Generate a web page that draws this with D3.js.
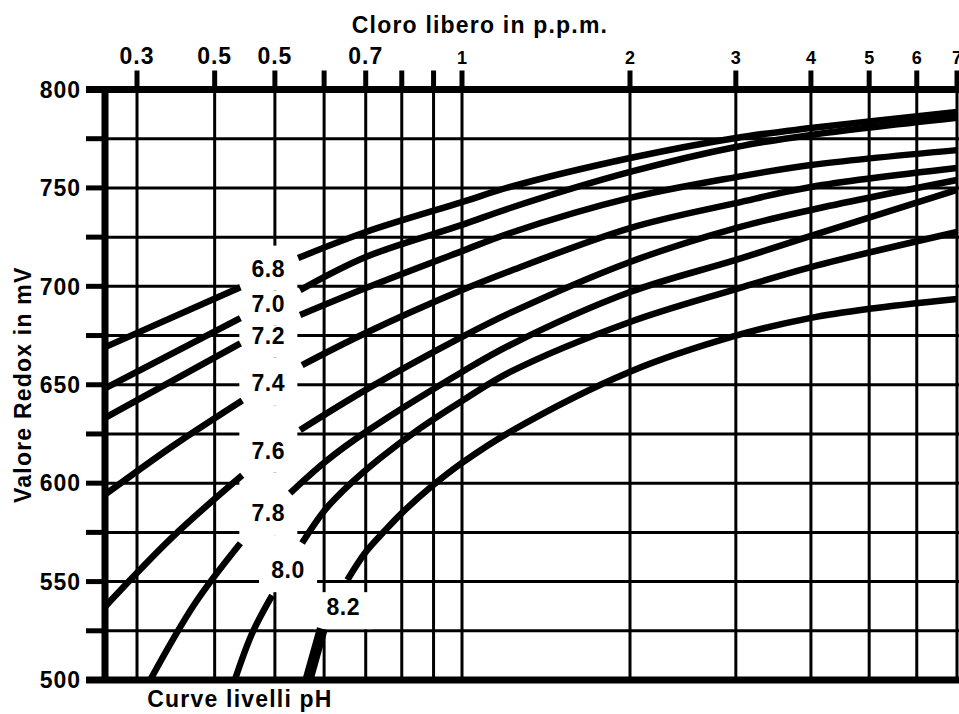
<!DOCTYPE html>
<html>
<head>
<meta charset="utf-8">
<script src="https://cdn.jsdelivr.net/npm/d3@7"></script>
<style>
  body { margin: 0; background: #fff; }
  svg { display: block; }
</style>
</head>
<body>
<svg id="chart"></svg>
<script>
// cloro libero (ppm) vs valore redox (mV), una curva per livello di pH

const xTickValues = [0.3, 0.4, 0.5, 0.6, 0.7, 0.8, 0.9, 1, 2, 3, 4, 5, 6, 7];
const xTickLabels = ["0.3", "0.5", "0.5", "", "0.7", "", "", "1", "2", "3", "4", "5", "6", "7"];
const yTickValues = [500, 525, 550, 575, 600, 625, 650, 675, 700, 725, 750, 775, 800];
const yTickLabels = ["500", "", "550", "", "600", "", "650", "", "700", "", "750", "", "800"];

const phLabels = ["6.8", "7.0", "7.2", "7.4", "7.6", "7.8", "8.0", "8.2"];
const phLabelPpm = [0.488, 0.488, 0.488, 0.488, 0.488, 0.488, 0.525, 0.644];
const phLabelMv = [709, 691.4, 675.1, 650.8, 616.7, 584.8, 555.8, 537];

// [ppm, mV] - tratto a sinistra e a destra delle etichette
const ph68Left = [[0.266, 669], [0.44, 699.5]];
const ph68Right = [[0.545, 714.4], [0.7, 727.6], [1, 742.8], [1.22, 750.5], [2, 765.2], [3, 775.4], [4, 780.4], [7, 788.6]];
const ph70Left = [[0.266, 648], [0.44, 683.8]];
const ph70Right = [[0.549, 698.1], [0.7, 714.9], [1, 731.2], [1.22, 739.8], [2, 758.1], [3, 770.8], [4, 776.9], [7, 785.6]];
const ph72Left = [[0.266, 633], [0.44, 671]];
const ph72Right = [[0.549, 685.4], [0.7, 699.1], [1, 717.9], [1.22, 727.1], [2, 744.9], [3, 755.5], [4, 761.6], [7, 769.2]];
const ph74Left = [[0.266, 594], [0.343, 619], [0.443, 642]];
const ph74Right = [[0.553, 660], [0.7, 676.3], [1, 698.1], [1.22, 707.8], [2, 729.6], [3, 742.3], [4, 750.5], [7, 760.1]];
const ph76Left = [[0.266, 537], [0.343, 573], [0.443, 604]];
const ph76Right = [[0.549, 627], [0.7, 647.4], [1, 674.3], [1.22, 686.5], [2, 712.4], [3, 729.6], [4, 738.8], [7, 754]];
const ph78Left = [[0.315, 500], [0.372, 539], [0.44, 569.5]];
const ph78Right = [[0.529, 595], [0.602, 610.8], [0.7, 626], [1, 656.5], [1.22, 670.2], [2, 697.1], [3, 713.4], [4, 725.6], [7, 749]];
const ph80Left = [[0.431, 500], [0.46, 524], [0.495, 543]];
const ph80Right = [[0.553, 569.6], [0.602, 586.4], [0.661, 599.6], [0.739, 612.8], [0.857, 628], [1, 641.8], [1.22, 656.5], [2, 681.9], [3, 698.6], [4, 709.8], [7, 727.6]];
const ph82Left = [[0.565, 500], [0.596, 526]];
const ph82Right = [[0.654, 550.8], [0.7, 565], [0.752, 576], [0.8, 584.8], [0.89, 597.9], [1, 610.3], [1.22, 626.1], [2, 656.6], [3, 674.9], [4, 684], [5, 688.6], [7, 693.6]];

const curves = [
    [ph68Left, ph68Right], [ph70Left, ph70Right], [ph72Left, ph72Right], [ph74Left, ph74Right],
    [ph76Left, ph76Right], [ph78Left, ph78Right], [ph80Left, ph80Right], [ph82Left, ph82Right]
];

const width = 959, height = 714;
const left = 105, right = 959, tickLen = 19;
const font = "'Liberation Sans', Arial, sans-serif";

// scala quasi logaritmica, disegnata a mano: log a tratti
const x = d3.scaleLog()
    .domain([0.3, 1, 2, 7])
    .range([137, 462, 630, 957]);

const y = d3.scaleLinear()
    .domain([500, 800])
    .range([680, 89.5]);

const svg = d3.select("#chart")
    .attr("width", width)
    .attr("height", height)
    .attr("font-family", font)
    .attr("font-weight", "bold");

svg.append("rect").attr("width", width).attr("height", height).attr("fill", "#fff");

const isEdge = d => d === 500 || d === 800;

// griglia orizzontale + tacche a sinistra
svg.append("g").selectAll("line")
    .data(yTickValues)
    .join("line")
    .attr("x1", left).attr("x2", right)
    .attr("y1", d => y(d)).attr("y2", d => y(d))
    .attr("stroke", "#000")
    .attr("stroke-width", d => isEdge(d) ? 7 : 3);

svg.append("g").selectAll("line")
    .data(yTickValues)
    .join("line")
    .attr("x1", left - tickLen).attr("x2", left)
    .attr("y1", d => y(d)).attr("y2", d => y(d))
    .attr("stroke", "#000")
    .attr("stroke-width", d => isEdge(d) ? 7 : 5);

// griglia verticale + tacche in alto
svg.append("g").selectAll("line")
    .data(xTickValues)
    .join("line")
    .attr("x1", d => x(d)).attr("x2", d => x(d))
    .attr("y1", y(800)).attr("y2", y(500))
    .attr("stroke", "#000")
    .attr("stroke-width", 3);

svg.append("g").selectAll("line")
    .data(xTickValues)
    .join("line")
    .attr("x1", d => x(d)).attr("x2", d => x(d))
    .attr("y1", y(800) - tickLen).attr("y2", y(800))
    .attr("stroke", "#000")
    .attr("stroke-width", 5);

svg.append("line")
    .attr("x1", left).attr("x2", left)
    .attr("y1", y(800) - 3).attr("y2", y(500) + 3)
    .attr("stroke", "#000")
    .attr("stroke-width", 7);

// etichette assi
svg.append("g").selectAll("text")
    .data(yTickValues.filter((d, i) => yTickLabels[i] !== ""))
    .join("text")
    .attr("x", left - tickLen - 5)
    .attr("y", d => y(d))
    .attr("dy", "0.36em")
    .attr("text-anchor", "end")
    .attr("font-size", 23)
    .attr("letter-spacing", 1)
    .text(d => yTickLabels[yTickValues.indexOf(d)]);

svg.append("g").selectAll("text")
    .data(xTickValues.filter((d, i) => xTickLabels[i] !== ""))
    .join("text")
    .attr("x", d => x(d))
    .attr("y", y(800) - tickLen - 7)
    .attr("text-anchor", "middle")
    .attr("font-size", d => d < 1 ? 23 : 18)
    .attr("letter-spacing", d => d < 1 ? 1 : 0)
    .text(d => xTickLabels[xTickValues.indexOf(d)]);

// riquadri bianchi dietro le etichette pH (tagliano la griglia)
const boxes = [];
phLabels.forEach((p, i) => {
    const cx = x(phLabelPpm[i]), cy = y(phLabelMv[i]);
    const top = i === 0 ? cy - 23 : y(phLabelMv[i - 1]) + 22;
    boxes.push({ x: cx - 29, y: top, w: 58, h: cy + 22 - top });
});

svg.append("g").selectAll("rect")
    .data(boxes)
    .join("rect")
    .attr("x", d => d.x).attr("y", d => d.y)
    .attr("width", d => d.w).attr("height", d => d.h)
    .attr("fill", "#fff");

// curve
const line = d3.line()
    .x(d => x(d[0]))
    .y(d => y(d[1]))
    .curve(d3.curveCatmullRom.alpha(0.5));

const curveG = svg.append("g")
    .attr("fill", "none")
    .attr("stroke", "#000");

curves.forEach((c, i) => {
    curveG.append("path")
        .attr("d", line(c[0]))
        .attr("stroke-width", i === 7 ? 11 : 6.5);
    curveG.append("path")
        .attr("d", line(c[1]))
        .attr("stroke-width", 6.5);
});

svg.append("g").selectAll("text")
    .data(phLabels)
    .join("text")
    .attr("x", (d, i) => x(phLabelPpm[i]))
    .attr("y", (d, i) => y(phLabelMv[i]))
    .attr("dy", "0.36em")
    .attr("text-anchor", "middle")
    .attr("font-size", 23)
    .attr("letter-spacing", 0.5)
    .text(d => d);

// titoli
svg.append("text")
    .attr("x", 480)
    .attr("y", 33)
    .attr("text-anchor", "middle")
    .attr("font-size", 23)
    .attr("letter-spacing", 1.2)
    .text("Cloro libero in p.p.m.");

svg.append("text")
    .attr("transform", "translate(31," + ((y(800) + y(500)) / 2) + ") rotate(-90)")
    .attr("text-anchor", "middle")
    .attr("font-size", 23)
    .attr("letter-spacing", 1.2)
    .text("Valore Redox in mV");

svg.append("text")
    .attr("x", 240)
    .attr("y", 707)
    .attr("text-anchor", "middle")
    .attr("font-size", 23)
    .attr("letter-spacing", 1.2)
    .text("Curve livelli pH");
</script>
</body>
</html>
